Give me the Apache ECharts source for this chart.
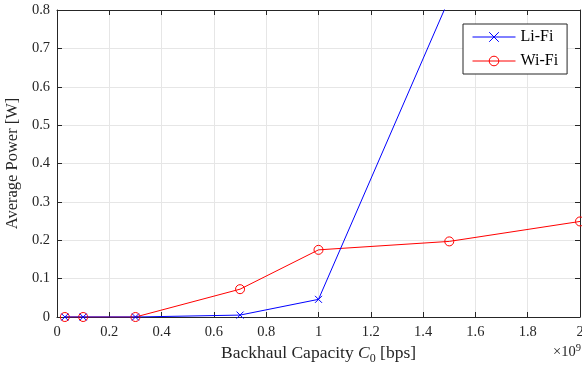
<!DOCTYPE html>
<html>
<head>
<meta charset="utf-8">
<script src="https://cdn.jsdelivr.net/npm/echarts@6/dist/echarts.min.js"></script>
<style>
  html, body { margin: 0; padding: 0; background: #fff; }
  #chart { width: 582px; height: 365px; }
</style>
</head>
<body>
<div id="chart"></div>
<script>
// backhaul capacity in units of 1e9 bps
const capacity = [0.03, 0.1, 0.3, 0.7, 1.0, 1.5, 2.0];
const lifiPower = [0, 0, 0, 0.005, 0.046, 0.83, 1.3];
const wifiPower = [0, 0, 0, 0.0725, 0.175, 0.197, 0.249];
const xTicks = { min: 0, max: 2, step: 0.2 };
const yTicks = { min: 0, max: 0.8, step: 0.1 };

const serif = "'Liberation Serif', 'DejaVu Serif', serif";
const ink = "#262626";
const gridColor = "#e6e6e6";

const chart = echarts.init(document.getElementById("chart"), null, { renderer: "canvas" });

const pairs = (ys) => capacity.map((x, i) => [x, ys[i]]);
const crossPath = "path://M0,0L10,10M10,0L0,10";

const baseX = {
  type: "value",
  min: xTicks.min,
  max: xTicks.max,
  interval: xTicks.step,
  axisLine: { show: true, onZero: false, lineStyle: { color: ink, width: 1 } },
  axisTick: { show: true, inside: true, length: 5, lineStyle: { color: ink } },
};
const baseY = {
  type: "value",
  min: yTicks.min,
  max: yTicks.max,
  interval: yTicks.step,
  axisLine: { show: true, onZero: false, lineStyle: { color: ink, width: 1 } },
  axisTick: { show: true, inside: true, length: 5, lineStyle: { color: ink } },
};

chart.setOption({
  animation: false,
  backgroundColor: "#fff",
  grid: { left: 57, right: 2, top: 10, bottom: 48, containLabel: false, outerBoundsMode: "none" },
  xAxis: [
    {
      ...baseX,
      position: "bottom",
      name: "Backhaul Capacity {i|C}{sub|0} [bps]",
      nameLocation: "middle",
      nameGap: 25,
      nameTextStyle: {
        fontFamily: serif, fontSize: 17.5, color: ink,
        rich: {
          i: { fontFamily: serif, fontSize: 17.5, fontStyle: "italic", color: ink },
          sub: { fontFamily: serif, fontSize: 12, color: ink, verticalAlign: "bottom", padding: [9, 0, 0, 0] },
        },
      },
      axisLabel: { fontFamily: serif, fontSize: 14.5, color: ink, margin: 8 },
      splitLine: { show: true, lineStyle: { color: gridColor, width: 1 } },
    },
    {
      ...baseX,
      position: "top",
      axisLabel: { show: false },
      splitLine: { show: false },
    },
  ],
  yAxis: [
    {
      ...baseY,
      position: "left",
      name: "Average Power [W]",
      nameLocation: "middle",
      nameGap: 31,
      nameTextStyle: { fontFamily: serif, fontSize: 16.5, color: ink },
      axisLabel: { fontFamily: serif, fontSize: 14.5, color: ink, margin: 7 },
      splitLine: { show: true, lineStyle: { color: gridColor, width: 1 } },
    },
    {
      ...baseY,
      position: "right",
      axisLabel: { show: false },
      splitLine: { show: false },
    },
  ],
  legend: {
    left: 463,
    top: 24,
    orient: "vertical",
    data: ["Li-Fi", "Wi-Fi"],
    backgroundColor: "#fff",
    borderColor: ink,
    borderWidth: 1,
    borderRadius: 0,
    padding: [5, 9, 5, 9],
    itemWidth: 43,
    itemHeight: 12,
    itemGap: 8,
    lineStyle: { width: 1 },
    itemStyle: { borderWidth: 1 },
    textStyle: { fontFamily: serif, fontSize: 16, color: "#000" },
  },
  graphic: [
    {
      type: "text",
      right: 1,
      top: 343,
      style: {
        text: "×10{sup|9}",
        font: "14.5px " + serif,
        fill: ink,
        rich: { sup: { fontFamily: serif, fontSize: 10.5, fill: ink, verticalAlign: "top", padding: [0, 0, 8, 0] } },
      },
    },
  ],
  series: [
    {
      name: "Li-Fi",
      type: "line",
      data: pairs(lifiPower),
      symbol: crossPath,
      symbolSize: 7,
      lineStyle: { color: "#0000ff", width: 1 },
      itemStyle: { color: "#0000ff", borderColor: "#0000ff", borderWidth: 1 },
      clip: true,
      z: 3,
    },
    {
      name: "Wi-Fi",
      type: "line",
      data: pairs(wifiPower),
      symbol: "circle",
      symbolSize: 9,
      lineStyle: { color: "#ff0000", width: 1 },
      itemStyle: { color: "rgba(255,255,255,0)", borderColor: "#ff0000", borderWidth: 1 },
      clip: true,
      z: 2,
    },
  ],
});
</script>
</body>
</html>
